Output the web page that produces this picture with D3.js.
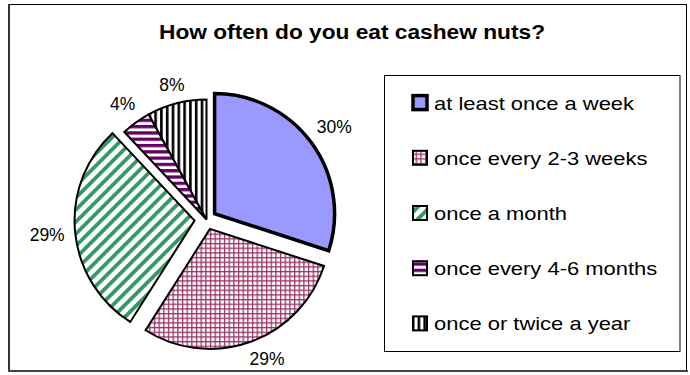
<!DOCTYPE html>
<html>
<head>
<meta charset="utf-8">
<script src="https://cdn.jsdelivr.net/npm/d3@7"></script>
<style>
  body { margin: 0; background: #fff; }
  svg { display: block; }
  text { font-family: "Liberation Sans", Arial, Helvetica, sans-serif; fill: #000; }
</style>
</head>
<body>
<svg id="chart" width="690" height="375"></svg>
<script>
// ---- data ----
const title = "How often do you eat cashew nuts?";
const categories = [
  "at least once a week",
  "once every 2-3 weeks",
  "once a month",
  "once every 4-6 months",
  "once or twice a year"
];
const shares = [30, 29, 29, 4, 8];

// ---- styling ----
const fills = ["#9999ff", "url(#grid)", "url(#diag)", "url(#hstripe)", "url(#vstripe)"];
const strokeWidths = [3.5, 2, 2, 2, 2];
const explodeBy = [10, 10, 12, 0, 0];

const W = 690, H = 375;
const svg = d3.select("#chart");
const defs = svg.append("defs");

// fill patterns
function makePattern(id, w, h, transform) {
  const p = defs.append("pattern")
    .attr("id", id)
    .attr("patternUnits", "userSpaceOnUse")
    .attr("width", w).attr("height", h);
  if (transform) p.attr("patternTransform", transform);
  p.append("rect").attr("width", w).attr("height", h).attr("fill", "#fff");
  return p;
}
const grid = makePattern("grid", 4.67, 4.67);
grid.append("rect").attr("width", 4.67).attr("height", 1.3).attr("fill", "#993366");
grid.append("rect").attr("width", 1.3).attr("height", 4.67).attr("fill", "#993366");

const diag = makePattern("diag", 8.5, 8.5, "rotate(45)");
diag.append("rect").attr("width", 3.8).attr("height", 8.5).attr("fill", "#339966");

const hs = makePattern("hstripe", 8, 6.3);
hs.append("rect").attr("width", 8).attr("height", 3.3).attr("fill", "#660066");

const vs = makePattern("vstripe", 5.8, 8);
vs.append("rect").attr("width", 2.6).attr("height", 8).attr("fill", "#000");

// ---- chart frame ----
svg.append("rect")
  .attr("x", 8.5).attr("y", 4.5).attr("width", 678).attr("height", 366.5)
  .attr("fill", "#fff").attr("stroke", "#000").attr("stroke-width", 1);
svg.append("line").attr("x1", 9).attr("x2", 9).attr("y1", 4).attr("y2", 372)
  .attr("stroke", "#333").attr("stroke-width", 2);
svg.append("line").attr("x1", 8).attr("x2", 688).attr("y1", 371).attr("y2", 371)
  .attr("stroke", "#444").attr("stroke-width", 2);

// ---- title ----
svg.append("text")
  .attr("x", 352).attr("y", 39)
  .attr("text-anchor", "middle")
  .attr("font-size", 20.5).attr("font-weight", "bold")
  .attr("textLength", 386).attr("lengthAdjust", "spacingAndGlyphs")
  .text(title);

// ---- pie ----
const cx = 206.5, cy = 219.5, R = 120;
const rows = categories.map((c, i) => ({ cat: c, v: shares[i], i }));
const pie = d3.pie().sort(null).value(d => d.v);
const arc = d3.arc().innerRadius(0).outerRadius(R);
const arcs = pie(rows);

const pieG = svg.append("g").attr("transform", `translate(${cx},${cy})`);
const order = arcs.slice().sort((a, b) => strokeWidths[a.data.i] - strokeWidths[b.data.i]);
pieG.selectAll("path.slice")
  .data(order)
  .join("path")
  .attr("class", "slice")
  .attr("d", arc)
  .attr("transform", d => {
    const m = (d.startAngle + d.endAngle) / 2, e = explodeBy[d.data.i];
    return `translate(${e * Math.sin(m)},${-e * Math.cos(m)})`;
  })
  .attr("fill", d => fills[d.data.i])
  .attr("stroke", "#000")
  .attr("stroke-width", d => strokeWidths[d.data.i])
  .attr("stroke-linejoin", "miter");

// ---- percentage labels (outside end, kept inside the frame) ----
const labelSize = 17.5, capH = labelSize * 0.716, pad = 10, yMax = 365;
const labelG = svg.append("g");
arcs.forEach(d => {
  const t = labelG.append("text")
    .attr("font-size", labelSize)
    .attr("text-anchor", "middle")
    .text(d.data.v + "%");
  const w = t.node().getComputedTextLength();
  const m = (d.startAngle + d.endAngle) / 2;
  const dx = Math.sin(m), dy = -Math.cos(m);
  const ext = Math.abs(dx) * w / 2 + Math.abs(dy) * capH / 2;
  const D = R + explodeBy[d.data.i] + pad + ext;
  let x = cx + D * dx, y = cy + D * dy;
  if (y + capH / 2 > yMax) {
    y = yMax - capH / 2;
    x = cx + Math.sign(dx) * Math.sqrt(Math.max(0, D * D - (y - cy) * (y - cy)));
  }
  t.attr("x", x).attr("y", y + capH / 2);
});

// ---- legend ----
const lgBox = { x: 384.5, y: 75.5, w: 295.5, h: 276 };
svg.append("rect")
  .attr("x", lgBox.x).attr("y", lgBox.y).attr("width", lgBox.w).attr("height", lgBox.h)
  .attr("fill", "#fff").attr("stroke", "#000").attr("stroke-width", 1);

const yLeg = d3.scaleBand().domain(categories).range([lgBox.y, lgBox.y + lgBox.h]);
const legendSize = 18;
const items = svg.append("g").selectAll("g")
  .data(rows)
  .join("g")
  .attr("transform", d => `translate(0,${yLeg(d.cat) + yLeg.bandwidth() / 2})`);
items.append("rect")
  .attr("x", 413).attr("y", -7.5).attr("width", 14).attr("height", 14)
  .attr("fill", d => fills[d.i])
  .attr("stroke", "#000")
  .attr("stroke-width", d => d.i === 0 ? 3.5 : 2);
items.append("text")
  .attr("transform", `translate(434,${legendSize * 0.716 / 2}) scale(1.22,1)`)
  .attr("font-size", legendSize)
  .text(d => d.cat);
</script>
</body>
</html>
